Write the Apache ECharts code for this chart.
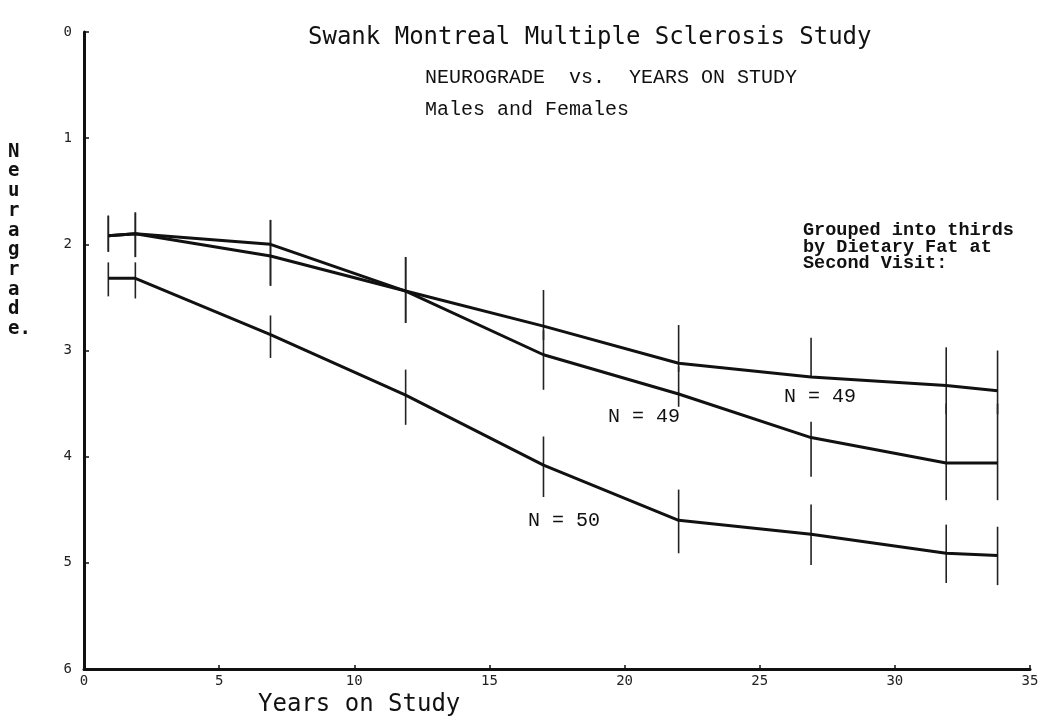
<!DOCTYPE html>
<html>
<head>
<meta charset="utf-8">
<script src="https://cdn.jsdelivr.net/npm/echarts@6/dist/echarts.min.js"></script>
<style>html,body{margin:0;padding:0;background:#fff;}#c{width:1044px;height:719px;}</style>
</head>
<body>
<div id="c"></div>
<script>
var years = [0.9, 1.9, 6.9, 11.9, 17.0, 22.0, 26.9, 31.9, 33.8];
var groupA = [1.92, 1.90, 2.11, 2.44, 2.77, 3.12, 3.25, 3.33, 3.38];
var groupB = [1.92, 1.90, 2.00, 2.44, 3.04, 3.41, 3.82, 4.06, 4.06];
var groupC = [2.32, 2.32, 2.85, 3.42, 4.08, 4.60, 4.73, 4.91, 4.93];
var barsA = [[1.73,2.07],[1.70,2.12],[1.77,2.39],[2.12,2.74],[2.43,2.90],[2.76,3.20],[2.88,3.26],[2.97,3.60],[3.00,3.60]];
var barsB = [[1.73,2.07],[1.70,2.12],[1.77,2.39],[2.12,2.74],[2.81,3.37],[3.15,3.53],[3.67,4.19],[3.50,4.41],[3.50,4.41]];
var barsC = [[2.17,2.49],[2.17,2.51],[2.67,3.07],[3.18,3.70],[3.81,4.38],[4.31,4.91],[4.45,5.02],[4.64,5.19],[4.66,5.21]];
var yTicks = [0, 1, 2, 3, 4, 5, 6];
var xTicks = [0, 5, 10, 15, 20, 25, 30, 35];

function pts(vals){ return years.map(function(x,i){ return [x, vals[i]]; }); }
function barData(b){ return years.map(function(x,i){ return [x, b[i][0], b[i][1]]; }); }
function barSeries(b){
  return {
    type: 'custom',
    data: barData(b),
    silent: true,
    renderItem: function(params, api){
      var p1 = api.coord([api.value(0), api.value(1)]);
      var p2 = api.coord([api.value(0), api.value(2)]);
      return { type: 'line', shape: {x1:p1[0], y1:p1[1], x2:p2[0], y2:p2[1]},
               style: {stroke:'#222', lineWidth:1.6} };
    },
    z: 2
  };
}
function lineSeries(vals){
  return { type:'line', data: pts(vals), symbol:'none', smooth:false,
           lineStyle:{color:'#111', width:3}, z:3, silent:true };
}

var chart = echarts.init(document.getElementById('c'));
var mono = 'DejaVu Sans Mono';
var tw = 'Liberation Mono';
chart.setOption({
  animation: false,
  backgroundColor: '#fff',
  grid: { left: 84, right: 14, top: 32, bottom: 50 },
  xAxis: {
    type: 'value', min: 0, max: 35, interval: 5, position: 'bottom',
    axisLine: { onZero: false, lineStyle: { color:'#111', width:3 } },
    axisTick: { inside: true, length: 4, lineStyle:{color:'#111', width:1.5} },
    splitLine: { show:false },
    axisLabel: { color:'#222', fontFamily: mono, fontSize: 14, margin: 5,
                 customValues: xTicks }
  },
  yAxis: {
    type: 'value', min: 0, max: 6, interval: 1, inverse: true, position: 'left',
    axisLine: { show:true, onZero: false, lineStyle: { color:'#111', width:3 } },
    axisTick: { show:true, inside: true, length: 5, lineStyle:{color:'#111', width:1.5} },
    splitLine: { show:false },
    axisLabel: { color:'#222', fontFamily: mono, fontSize: 14, margin: 12,
                 customValues: yTicks }
  },
  series: [
    barSeries(barsA), barSeries(barsB), barSeries(barsC),
    lineSeries(groupA), lineSeries(groupB), lineSeries(groupC)
  ],
  graphic: [
    { type:'text', left: 308, top: 26, style:{ text:'Swank Montreal Multiple Sclerosis Study',
      font: '24px "' + mono + '"', fill:'#111' } },
    { type:'text', left: 425, top: 68, style:{ text:'NEUROGRADE  vs.  YEARS ON STUDY',
      font: '20px "' + tw + '"', fill:'#111' } },
    { type:'text', left: 425, top: 100, style:{ text:'Males and Females',
      font: '20px "' + tw + '"', fill:'#111' } },
    { type:'text', left: 803, top: 221, style:{ text:'Grouped into thirds\nby Dietary Fat at\nSecond Visit:',
      font: 'bold 18.5px "' + tw + '"', lineHeight: 16.5, fill:'#111' } },
    { type:'text', left: 608, top: 407, style:{ text:'N = 49', font: '20px "' + tw + '"', fill:'#111' } },
    { type:'text', left: 784, top: 387, style:{ text:'N = 49', font: '20px "' + tw + '"', fill:'#111' } },
    { type:'text', left: 528, top: 511, style:{ text:'N = 50', font: '20px "' + tw + '"', fill:'#111' } },
    { type:'text', left: 8, top: 142, style:{ text:'N\ne\nu\nr\na\ng\nr\na\nd\ne.',
      font: 'bold 19px "' + mono + '"', lineHeight: 19.7, fill:'#111' } },
    { type:'text', left: 258, top: 693, style:{ text:'Years on Study',
      font: '24px "' + mono + '"', fill:'#111' } }
  ]
});
</script>
</body>
</html>
